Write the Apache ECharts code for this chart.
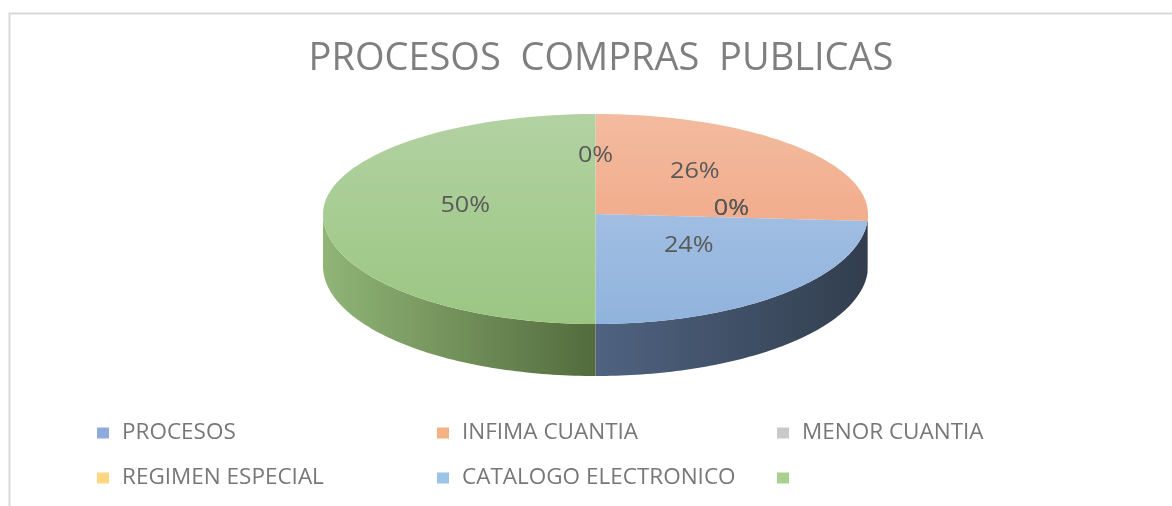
<!DOCTYPE html>
<html lang="es">
<head>
    <meta charset="UTF-8"/>
    <script src="https://cdn.jsdelivr.net/npm/echarts@6/dist/echarts.min.js"></script>
    <title>Procesos compras publicas</title>
    <style>
        html, body { margin: 0; padding: 0; background: #fff; }
    </style>
</head>
<body>
<div id="main" style="width: 1172px;height:506px;"></div>
<script type="text/javascript">
    // datos
    var categories = ['PROCESOS', 'INFIMA CUANTIA', 'MENOR CUANTIA', 'REGIMEN ESPECIAL', 'CATALOGO ELECTRONICO', ''];
    var shares = [0, 26, 0, 0, 24, 50];
    var legendColors = ['#8FAADC', '#F4B183', '#C9C9C9', '#FFD780', '#9DC3E6', '#A9D18E'];

    // colores de la cara superior (arriba, abajo) y del costado (izq, der)
    var topColors = [
        ['#8FAADC', '#7f9bd3'],
        ['#f3bb9f', '#f09f7a'],
        ['#cccccc', '#bbbbbb'],
        ['#ffd98a', '#ffcf6a'],
        ['#b0c8e6', '#90b3dd'],
        ['#b2d2a2', '#9bc682']
    ];
    var sideColors = [
        ['#5a6f99', '#3d4c6b'],
        ['#b0735a', '#80513e'],
        ['#8e8e8e', '#666666'],
        ['#b7984a', '#857032'],
        ['#4f6381', '#323e4e'],
        ['#90b577', '#536b3d']
    ];

    var cx = 595.5, cy = 214, rx = 272.5, ryTop = 100, ryBot = 110, depth = 52;

    var total = shares.reduce(function (a, b) { return a + b; }, 0);
    var starts = [], ends = [];
    var acc = 0;
    for (var i = 0; i < shares.length; i++) {
        starts.push(acc / total * Math.PI * 2);
        acc += shares[i];
        ends.push(acc / total * Math.PI * 2);
    }

    function pt(t, f, dy) {
        var ry = Math.cos(t) > 0 ? ryTop : ryBot;
        return [cx + f * rx * Math.sin(t), cy - f * ry * Math.cos(t) + (dy || 0)];
    }

    function renderItem(params, api) {
        var i = params.dataIndex;
        var a0 = starts[i], a1 = ends[i];
        var children = [];
        var n = 80;
        if (a1 > a0) {
            var top = [[cx, cy]];
            for (var k = 0; k <= n; k++) {
                top.push(pt(a0 + (a1 - a0) * k / n, 1));
            }
            children.push({
                type: 'polygon',
                shape: {points: top},
                style: {
                    fill: new echarts.graphic.LinearGradient(0, cy - ryTop, 0, cy + ryBot, [
                        {offset: 0, color: topColors[i][0]},
                        {offset: 1, color: topColors[i][1]}
                    ], true)
                },
                z2: 2
            });
            // costado visible (mitad delantera)
            var s0 = Math.max(a0, Math.PI / 2), s1 = Math.min(a1, Math.PI * 1.5);
            if (s1 > s0) {
                var up = [], down = [];
                for (var k = 0; k <= n; k++) {
                    var t = s0 + (s1 - s0) * k / n;
                    up.push(pt(t, 1));
                    down.unshift(pt(t, 1, depth));
                }
                var xs = up.map(function (p) { return p[0]; });
                var xl = Math.min.apply(null, xs), xr = Math.max.apply(null, xs);
                children.push({
                    type: 'polygon',
                    shape: {points: up.concat(down)},
                    style: {
                        fill: new echarts.graphic.LinearGradient(xl, 0, xr, 0, [
                            {offset: 0, color: sideColors[i][0]},
                            {offset: 1, color: sideColors[i][1]}
                        ], true)
                    },
                    z2: 1
                });
            }
        }
        var mid = (a0 + a1) / 2;
        var lp = pt(mid, 0.5, -8);
        if (shares[i] === 50) lp[0] += 6;
        children.push({
            type: 'text',
            x: lp[0],
            y: lp[1],
            scaleX: 1.2,
            style: {
                text: Math.round(shares[i] / total * 100) + '%',
                fill: '#595959',
                font: '21px "Open Sans"',
                align: 'center',
                verticalAlign: 'middle'
            },
            z2: 3
        });
        return {type: 'group', children: children};
    }

    var myChart = echarts.init(document.getElementById('main'));

    var option = {
        backgroundColor: '#ffffff',
        animation: false,
        title: {
            text: 'PROCESOS  COMPRAS  PUBLICAS',
            left: 596,
            textAlign: 'center',
            top: 35,
            textStyle: {
                color: '#7f7f7f',
                fontSize: 38,
                fontWeight: 'normal',
                fontFamily: 'Open Sans'
            }
        },
        legend: {
            left: 97,
            top: 418,
            width: 1040,
            padding: 0,
            icon: 'rect',
            itemWidth: 12,
            itemHeight: 11,
            itemGap: 15,
            textStyle: {
                color: '#777777',
                fontSize: 22.5,
                fontFamily: 'Open Sans',
                width: 300,
                lineHeight: 30,
                padding: [0, 0, 0, 8]
            }
        },
        graphic: [{
            type: 'rect',
            shape: {x: 9.5, y: 13.5, width: 1300, height: 700},
            style: {fill: 'none', stroke: '#d9d9d9', lineWidth: 2},
            silent: true
        }],
        series: [
            {
                // solo para la leyenda
                type: 'pie',
                radius: [0, 0],
                center: [cx, cy],
                silent: true,
                label: {show: false},
                labelLine: {show: false},
                data: categories.map(function (c, i) {
                    return {name: c || ' ', value: shares[i], itemStyle: {color: legendColors[i]}};
                })
            },
            {
                type: 'custom',
                coordinateSystem: 'none',
                renderItem: renderItem,
                data: shares.map(function (v, i) { return [i, v]; })
            }
        ]
    };

    myChart.setOption(option);
</script>
</body>
</html>
